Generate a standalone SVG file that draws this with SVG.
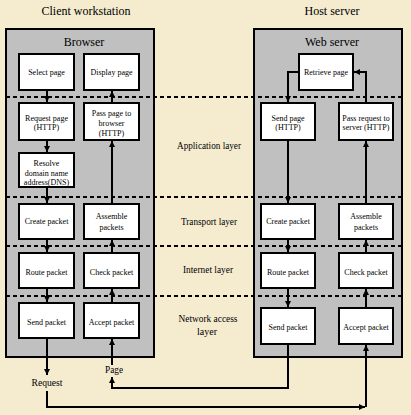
<svg xmlns="http://www.w3.org/2000/svg" width="411" height="415" viewBox="0 0 411 415">
<defs>
<marker id="ah" markerWidth="6" markerHeight="6" refX="6" refY="3" orient="auto" markerUnits="userSpaceOnUse">
<path d="M0,0 L6,3 L0,6 z" fill="#000"/>
</marker>
<style>
.panel{fill:#c0c0c0;stroke:#000;stroke-width:2}
.box{fill:#fff;stroke:#000;stroke-width:2}
.dot{stroke:#000;stroke-width:2;stroke-dasharray:4 3;fill:none}
.con{stroke:#000;stroke-width:2;fill:none;marker-end:url(#ah)}
.ln{stroke:#000;stroke-width:2;fill:none}
.t{font-family:"Liberation Serif","Times New Roman",serif;font-size:12px;fill:#000;text-anchor:middle}
.lay{font-family:"Liberation Serif","Times New Roman",serif;font-size:10px;fill:#000;text-anchor:middle}
.bt{font-family:"Liberation Serif","Times New Roman",serif;font-size:8px;fill:#000;text-anchor:middle}
</style>
</defs>
<rect width="411" height="415" fill="#f5ecd0"/>

<text class="t" x="86" y="15">Client workstation</text>
<text class="t" x="332" y="15">Host server</text>

<g id="client-panel">
<rect class="panel" x="6" y="29" width="148" height="328"/>
<text class="t" x="84" y="46">Browser</text>
</g>
<g id="host-panel">
<rect class="panel" x="254" y="29" width="148" height="328"/>
<text class="t" x="332" y="46">Web server</text>
</g>

<g id="layer-lines">
<line class="dot" x1="6" y1="97" x2="402" y2="97"/>
<line class="dot" x1="6" y1="197" x2="402" y2="197"/>
<line class="dot" x1="6" y1="246" x2="402" y2="246"/>
<line class="dot" x1="6" y1="296" x2="402" y2="296"/>
</g>

<g id="layer-labels">
<text class="lay" x="209" y="149" textLength="64" lengthAdjust="spacingAndGlyphs">Application layer</text>
<text class="lay" x="209" y="225" textLength="56" lengthAdjust="spacingAndGlyphs">Transport layer</text>
<text class="lay" x="208" y="273" textLength="50" lengthAdjust="spacingAndGlyphs">Internet layer</text>
<text class="lay" x="208" y="322" textLength="59" lengthAdjust="spacingAndGlyphs">Network access</text>
<text class="lay" x="207" y="335">layer</text>
</g>

<g id="select-page"><rect class="box" x="19" y="54" width="55" height="36"/><text class="bt" x="46.5" y="74.5">Select page</text></g>
<g id="display-page"><rect class="box" x="84" y="54" width="55" height="36"/><text class="bt" x="111.5" y="74.5">Display page</text></g>
<g id="request-page"><rect class="box" x="19" y="103" width="55" height="37"/><text class="bt" x="46.5" y="120.5">Request page</text><text class="bt" x="46.5" y="130">(HTTP)</text></g>
<g id="pass-page"><rect class="box" x="84" y="103" width="55" height="37"/><text class="bt" x="111.5" y="116">Pass page to</text><text class="bt" x="111.5" y="126">browser</text><text class="bt" x="111.5" y="136">(HTTP)</text></g>
<g id="resolve"><rect class="box" x="19" y="153" width="55" height="34"/><text class="bt" x="46.5" y="165.5">Resolve</text><text class="bt" x="46.5" y="175.5">domain name</text><text class="bt" x="46.5" y="185">address(DNS)</text></g>
<g id="create-packet-c"><rect class="box" x="19" y="204" width="55" height="35"/><text class="bt" x="46.5" y="224">Create packet</text></g>
<g id="assemble-c"><rect class="box" x="84" y="204" width="55" height="35"/><text class="bt" x="111.5" y="218.5">Assemble</text><text class="bt" x="111.5" y="229.5">packets</text></g>
<g id="route-c"><rect class="box" x="19" y="253" width="55" height="35"/><text class="bt" x="46.5" y="274.5">Route packet</text></g>
<g id="check-c"><rect class="box" x="84" y="253" width="55" height="35"/><text class="bt" x="111.5" y="274.5">Check packet</text></g>
<g id="send-c"><rect class="box" x="19" y="303" width="55" height="35"/><text class="bt" x="46.5" y="324.5">Send packet</text></g>
<g id="accept-c"><rect class="box" x="84" y="303" width="55" height="35"/><text class="bt" x="111.5" y="324.5">Accept packet</text></g>

<g id="retrieve-page"><rect class="box" x="299" y="54" width="54" height="36"/><text class="bt" x="326" y="74.5">Retrieve page</text></g>
<g id="send-page"><rect class="box" x="261" y="103" width="54" height="37"/><text class="bt" x="288" y="120.5">Send page</text><text class="bt" x="288" y="130">(HTTP)</text></g>
<g id="pass-request"><rect class="box" x="339" y="103" width="54" height="37"/><text class="bt" x="366" y="120.5">Pass request to</text><text class="bt" x="366" y="130">server (HTTP)</text></g>
<g id="create-packet-h"><rect class="box" x="261" y="204" width="54" height="35"/><text class="bt" x="288" y="224">Create packet</text></g>
<g id="assemble-h"><rect class="box" x="339" y="204" width="54" height="35"/><text class="bt" x="366" y="218.5">Assemble</text><text class="bt" x="366" y="229.5">packets</text></g>
<g id="route-h"><rect class="box" x="261" y="253" width="54" height="35"/><text class="bt" x="288" y="274.5">Route packet</text></g>
<g id="check-h"><rect class="box" x="339" y="253" width="54" height="35"/><text class="bt" x="366" y="274.5">Check packet</text></g>
<g id="send-h"><rect class="box" x="261" y="308" width="54" height="36"/><text class="bt" x="288" y="330">Send packet</text></g>
<g id="accept-h"><rect class="box" x="339" y="308" width="54" height="36"/><text class="bt" x="366" y="330">Accept packet</text></g>

<g id="end-labels">
<text class="lay" x="47" y="386" font-size="11" textLength="31" lengthAdjust="spacingAndGlyphs">Request</text>
<text class="lay" x="114" y="373" font-size="11" textLength="18" lengthAdjust="spacingAndGlyphs">Page</text>
</g>

<g id="connectors">
<path class="con" d="M47,91 V102"/>
<path class="con" d="M47,141 V152"/>
<path class="con" d="M47,188 V203"/>
<path class="con" d="M47,240 V252"/>
<path class="con" d="M47,289 V302"/>
<path class="con" d="M47,339 V375"/>
<path class="con" d="M112,302 V289"/>
<path class="con" d="M112,252 V240"/>
<path class="con" d="M112,203 V141"/>
<path class="con" d="M112,102 V91"/>
<path class="con" d="M112,365 V339"/>
<path class="con" d="M298,72 H288 V102"/>
<path class="con" d="M366,102 V72 H354"/>
<path class="con" d="M288,141 V203"/>
<path class="con" d="M288,240 V252"/>
<path class="con" d="M288,289 V307"/>
<path class="con" d="M366,307 V289"/>
<path class="con" d="M366,252 V240"/>
<path class="con" d="M366,203 V141"/>
<path class="con" d="M47,391 V407 H365"/>
<path class="con" d="M366,407 V345"/>
<path class="con" d="M288,345 V388 H112 V377"/>
</g>
</svg>
